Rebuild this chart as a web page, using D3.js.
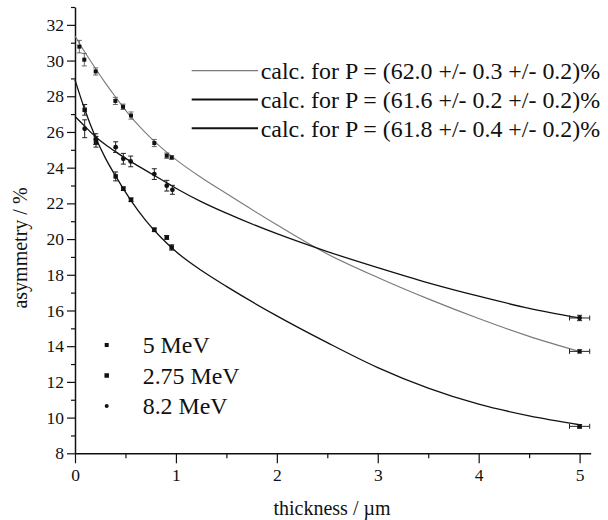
<!DOCTYPE html>
<html><head><meta charset="utf-8">
<script src="https://cdn.jsdelivr.net/npm/d3@7"></script>
<style>
body{margin:0;background:#fff}
svg{display:block}
svg text{font-family:"Liberation Serif","Times New Roman","DejaVu Serif",serif}
</style>
</head><body>
<svg id="chart" width="608" height="520"></svg>
<script>
// Axis ticks
const xTicks = [0, 1, 2, 3, 4, 5];
const xMinorTicks = [0.5, 1.5, 2.5, 3.5, 4.5];
const yTicks = [8, 10, 12, 14, 16, 18, 20, 22, 24, 26, 28, 30, 32];
const yMinorTicks = [9, 11, 13, 15, 17, 19, 21, 23, 25, 27, 29, 31, 33];

// Measured asymmetry: [thickness µm, asymmetry %, y error, x error]
const energyLabels = ["5 MeV", "2.75 MeV", "8.2 MeV"];
const data5MeV = [
  [0.043, 30.78, 0.35, 0], [0.092, 30.05, 0.35, 0], [0.205, 29.39, 0.2, 0],
  [0.400, 27.74, 0.2, 0], [0.476, 27.41, 0.15, 0], [0.555, 26.92, 0.2, 0],
  [0.786, 25.38, 0.2, 0], [0.909, 24.67, 0.15, 0], [0.958, 24.57, 0.1, 0],
  [5.0, 13.71, 0.1, 0.1]
];
const data275MeV = [
  [0.096, 27.24, 0.3, 0], [0.208, 25.45, 0.3, 0], [0.403, 23.51, 0.25, 0],
  [0.479, 22.82, 0.1, 0], [0.555, 22.20, 0.1, 0], [0.786, 20.52, 0.1, 0],
  [0.909, 20.09, 0.1, 0], [0.958, 19.53, 0.15, 0], [5.0, 9.51, 0.1, 0.1]
];
const data82MeV = [
  [0.096, 26.18, 0.5, 0], [0.205, 25.60, 0.3, 0], [0.403, 25.15, 0.3, 0],
  [0.479, 24.50, 0.3, 0], [0.552, 24.35, 0.3, 0], [0.786, 23.64, 0.3, 0],
  [0.909, 22.99, 0.3, 0], [0.965, 22.76, 0.25, 0], [5.0, 15.58, 0.15, 0.1]
];

// Calculated curves: [thickness µm, asymmetry %]
const calcLabels = [
  "calc. for P = (62.0 +/- 0.3 +/- 0.2)%",
  "calc. for P = (61.6 +/- 0.2 +/- 0.2)%",
  "calc. for P = (61.8 +/- 0.4 +/- 0.2)%"
];
const calc5MeV = [
  [0, 31.38], [0.1, 30.45], [0.2, 29.58], [0.3, 28.75], [0.4, 27.97], [0.55, 26.87],
  [0.7, 25.95], [0.85, 25.15], [1.0, 24.45], [1.25, 23.45], [1.5, 22.55], [2.0, 20.8],
  [2.5, 19.17], [3.0, 17.85], [3.5, 16.65], [4.0, 15.55], [4.5, 14.55], [5.0, 13.7]
];
const calc275MeV = [
  [0, 28.92], [0.1, 27.2], [0.2, 25.75], [0.3, 24.55], [0.4, 23.55], [0.55, 22.2],
  [0.7, 21.05], [0.85, 20.1], [1.0, 19.3], [1.25, 18.25], [1.5, 17.35], [2.0, 15.7],
  [2.5, 14.2], [3.0, 12.8], [3.5, 11.65], [4.0, 10.75], [4.5, 10.1], [5.0, 9.6]
];
const calc82MeV = [
  [0, 26.87], [0.1, 26.3], [0.2, 25.75], [0.3, 25.3], [0.4, 24.9], [0.55, 24.35],
  [0.7, 23.85], [0.85, 23.35], [1.0, 22.85], [1.25, 22.1], [1.5, 21.45], [2.0, 20.3],
  [2.5, 19.3], [3.0, 18.4], [3.5, 17.55], [4.0, 16.8], [4.5, 16.12], [5.0, 15.58]
];

const FONT = '"Liberation Serif","Times New Roman","DejaVu Serif",serif';
const svg = d3.select("#chart");
const x = d3.scaleLinear().domain([0, 5.11]).range([75, 590.7]);
const y = d3.scaleLinear().domain([8, 33]).range([453.3, 7]);

// Axes
const axisColor = "#111";
svg.append("g").attr("transform", `translate(${x(0)},0)`)
  .call(d3.axisLeft(y).tickValues(yTicks).tickFormat(d3.format("d"))
    .tickSize(8).tickPadding(3).tickSizeOuter(0));
svg.append("g").attr("transform", `translate(${x(0)},0)`)
  .call(d3.axisLeft(y).tickValues(yMinorTicks).tickSize(4).tickFormat("").tickSizeOuter(0))
  .select(".domain").remove();
svg.append("g").attr("transform", `translate(0,${y(8)})`)
  .call(d3.axisBottom(x).tickValues(xTicks).tickFormat(d3.format("d"))
    .tickSize(10).tickPadding(5).tickSizeOuter(0));
svg.append("g").attr("transform", `translate(0,${y(8)})`)
  .call(d3.axisBottom(x).tickValues(xMinorTicks).tickSize(5).tickFormat("").tickSizeOuter(0))
  .select(".domain").remove();

svg.selectAll("g").attr("font-family", FONT);
svg.selectAll(".domain").attr("stroke", axisColor).attr("stroke-width", 1.5);
svg.selectAll(".tick line").attr("stroke", axisColor).attr("stroke-width", 1.2);
svg.selectAll(".tick text").attr("font-family", FONT)
  .attr("font-size", 17.5).attr("fill", "#111");

svg.append("text").attr("transform", "translate(26.5,248) rotate(-90)")
  .attr("text-anchor", "middle").attr("font-family", FONT).attr("font-size", 20).attr("fill", "#111")
  .text("asymmetry / %");
svg.append("text").attr("x", 332).attr("y", 515)
  .attr("text-anchor", "middle").attr("font-family", FONT).attr("font-size", 20).attr("fill", "#111")
  .text("thickness / µm");

// Calculated curves
const line = d3.line().x(d => x(d[0])).y(d => y(d[1])).curve(d3.curveMonotoneX);
const curves = [
  {d: calc5MeV, color: "#7a7a7a", w: 1.1},
  {d: calc275MeV, color: "#111", w: 1.3},
  {d: calc82MeV, color: "#111", w: 1.3}
];
curves.forEach(c => {
  svg.append("path").attr("d", line(c.d)).attr("fill", "none")
    .attr("stroke", c.color).attr("stroke-width", c.w);
});

// Measured points with error bars
const sets = [
  {d: data5MeV, shape: "sq", size: 4, bar: "#666"},
  {d: data275MeV, shape: "sq", size: 4.5, bar: "#222"},
  {d: data82MeV, shape: "dot", size: 2.4, bar: "#222"}
];
sets.forEach(s => {
  const g = svg.append("g");
  s.d.forEach(p => {
    const cx = x(p[0]), cy = y(p[1]);
    const y0 = y(p[1] - p[2]), y1 = y(p[1] + p[2]);
    g.append("line").attr("x1", cx).attr("x2", cx).attr("y1", y0).attr("y2", y1)
      .attr("stroke", s.bar).attr("stroke-width", 1);
    [y0, y1].forEach(v => g.append("line").attr("x1", cx - 2.5).attr("x2", cx + 2.5)
      .attr("y1", v).attr("y2", v).attr("stroke", s.bar).attr("stroke-width", 1));
    if (p[3] > 0) {
      const x0 = x(p[0] - p[3]), x1 = x(p[0] + p[3]);
      g.append("line").attr("x1", x0).attr("x2", x1).attr("y1", cy).attr("y2", cy)
        .attr("stroke", "#222").attr("stroke-width", 1);
      [x0, x1].forEach(v => g.append("line").attr("x1", v).attr("x2", v)
        .attr("y1", cy - 2.5).attr("y2", cy + 2.5).attr("stroke", "#222").attr("stroke-width", 1));
    }
    if (s.shape === "sq") {
      g.append("rect").attr("x", cx - s.size / 2).attr("y", cy - s.size / 2)
        .attr("width", s.size).attr("height", s.size).attr("fill", "#111");
    } else {
      g.append("circle").attr("cx", cx).attr("cy", cy).attr("r", s.size).attr("fill", "#111");
    }
  });
});

// Legend for calculated curves
const calcLeg = svg.append("g");
calcLabels.forEach((t, i) => {
  const ly = 70.7 + i * 28.8;
  calcLeg.append("line").attr("x1", 191.7).attr("x2", 258).attr("y1", ly).attr("y2", ly)
    .attr("stroke", i === 0 ? "#7a7a7a" : "#111").attr("stroke-width", i === 0 ? 1.3 : 2);
  calcLeg.append("text").attr("x", 260.7).attr("y", ly + 8.6)
    .attr("font-family", FONT).attr("font-size", 23.9).attr("fill", "#111").text(t);
});

// Legend for beam energies
const dataLeg = svg.append("g");
energyLabels.forEach((t, i) => {
  const ly = 345 + i * 30.5;
  const s = sets[i];
  if (s.shape === "sq") {
    dataLeg.append("rect").attr("x", 106.7 - s.size / 2).attr("y", ly - s.size / 2)
      .attr("width", s.size).attr("height", s.size).attr("fill", "#111");
  } else {
    dataLeg.append("circle").attr("cx", 106.7).attr("cy", ly).attr("r", 2).attr("fill", "#111");
  }
  dataLeg.append("text").attr("x", 142.7).attr("y", ly + 8.3)
    .attr("font-family", FONT).attr("font-size", 23.9).attr("fill", "#111").text(t);
});
</script>
</body></html>
